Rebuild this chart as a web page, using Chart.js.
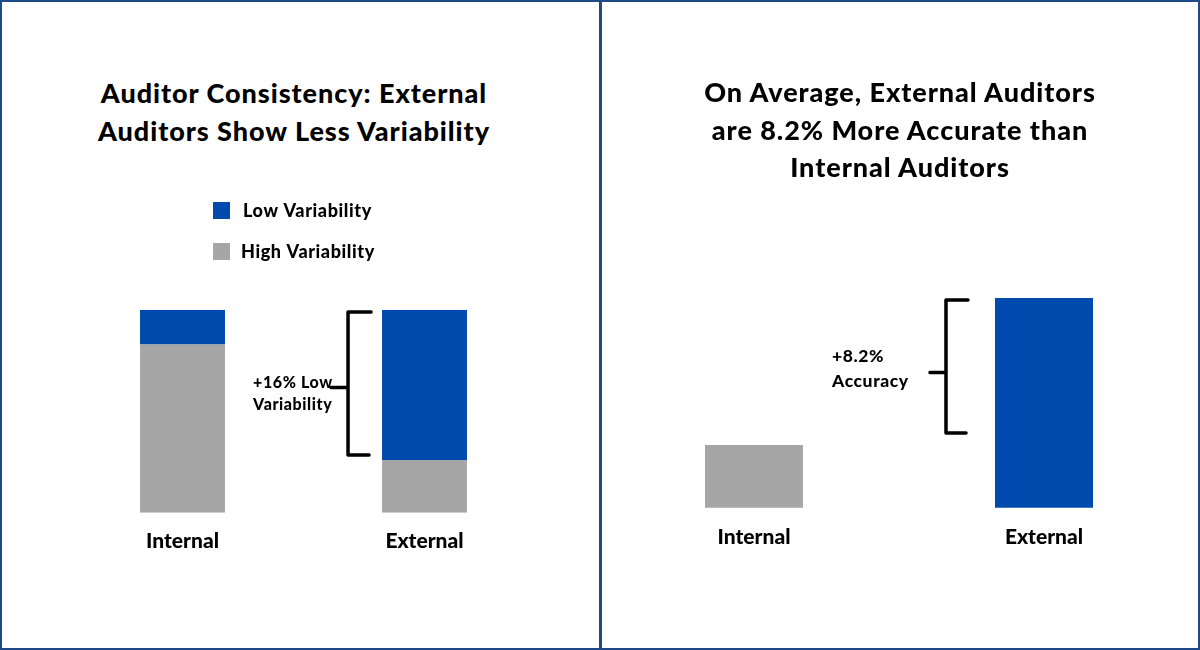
<!DOCTYPE html>
<html>
<head>
<meta charset="utf-8">
<script src="https://cdn.jsdelivr.net/npm/chart.js@4/dist/chart.umd.min.js"></script>
<style>
    html, body { margin: 0; padding: 0; background: #fff; }
    #frame {
        position: relative;
        width: 1200px;
        height: 650px;
        box-sizing: border-box;
        border: 2px solid #1d4a86;
        overflow: hidden;
        font-family: Lato, "Open Sans", sans-serif;
    }
    .divider {
        position: absolute;
        left: 597px;
        top: 0;
        width: 3px;
        height: 650px;
        background: #1d4a86;
    }
    .panel { position: absolute; top: -2px; width: 600px; height: 650px; }
    .panel canvas { position: absolute; left: 0; top: 0; }
    .title {
        position: absolute;
        left: 0;
        width: 100%;
        text-align: center;
        font-weight: 900;
        font-size: 27px;
        letter-spacing: 0.95px;
        line-height: 37.5px;
        color: #000;
    }
</style>
</head>
<body>
<div id="frame">
    <div class="panel" style="left:-2px">
        <div class="title" style="top:74px; left:-6px">Auditor Consistency: External<br>Auditors Show Less Variability</div>
        <canvas id="variabilityChart" width="600" height="650"></canvas>
    </div>
    <div class="divider"></div>
    <div class="panel" style="left:598px">
        <div class="title" style="top:73px">On Average, External Auditors<br>are 8.2% More Accurate than<br>Internal Auditors</div>
        <canvas id="accuracyChart" width="600" height="650"></canvas>
    </div>
</div>

<script>
// Data
const CATEGORIES = ['Internal', 'External'];
const LOW_VARIABILITY = [17, 74];   // % of audits
const HIGH_VARIABILITY = [83, 26];
const ACCURACY = [84.0, 92.2];      // average accuracy %
const ACCURACY_AXIS_MIN = 80.5;
const VARIABILITY_NOTE = ['+16% Low', 'Variability'];
const ACCURACY_NOTE = ['+8.2%', 'Accuracy'];

const BLUE = '#004aad';
const GRAY = '#a6a6a6';
const FONT = 'Lato, "Open Sans", sans-serif';

// Legend drawn as a vertical list (low first, like the original)
const stackedLegend = {
    id: 'stackedLegend',
    afterDraw(chart, args, opts) {
        const ctx = chart.ctx;
        ctx.save();
        ctx.font = '900 18px ' + FONT;
        ctx.letterSpacing = '0.6px';
        ctx.textBaseline = 'middle';
        opts.order.forEach((dsIndex, i) => {
            const ds = chart.data.datasets[dsIndex];
            const y = opts.y + i * opts.rowGap;
            ctx.fillStyle = ds.backgroundColor;
            ctx.fillRect(opts.x, y, opts.box, opts.box);
            ctx.fillStyle = '#000';
            ctx.fillText(ds.label, opts.x + opts.textGap - (i ? 2 : 0), y + opts.box / 2 + 1);
        });
        ctx.restore();
    }
};

// Bracket with a short note, placed from the y scale
const bracketNote = {
    id: 'bracketNote',
    afterDraw(chart, args, opts) {
        const ctx = chart.ctx;
        const ys = chart.scales.y;
        const meta = chart.getDatasetMeta(chart.data.datasets.length - 1);
        const bar = meta.data[opts.index];
        const x = bar.x - bar.width / 2 - opts.gap;
        const top = ys.getPixelForValue(opts.from) + opts.insetTop;
        const bottom = ys.getPixelForValue(opts.to) - opts.insetBottom;
        const mid = (top + bottom) / 2 + opts.tickShift;

        ctx.save();
        ctx.strokeStyle = '#000';
        ctx.lineWidth = 3.5;
        ctx.lineCap = 'round';
        ctx.lineJoin = 'round';
        ctx.beginPath();
        ctx.moveTo(x + opts.arm, top);
        ctx.lineTo(x, top);
        ctx.lineTo(x, bottom);
        ctx.lineTo(x + opts.arm - 2, bottom);
        ctx.moveTo(x - opts.tick, mid);
        ctx.lineTo(x, mid);
        ctx.stroke();

        ctx.fillStyle = '#000';
        ctx.font = '900 ' + opts.fontSize + 'px ' + FONT;
        ctx.letterSpacing = '0.6px';
        ctx.textBaseline = 'middle';
        opts.lines.forEach((line, i) => {
            ctx.fillText(line, x - opts.textOffset, mid + opts.textShift + i * opts.lineGap);
        });
        ctx.restore();
    }
};

const xAxis = (pad) => ({
    grid: { display: false, drawTicks: false },
    border: { display: false },
    ticks: {
        color: '#000',
        padding: pad,
        font: { family: FONT, size: 21, weight: '900' }
    }
});

new Chart(document.getElementById('variabilityChart'), {
    type: 'bar',
    data: {
        labels: CATEGORIES,
        datasets: [
            { label: 'High Variability', data: HIGH_VARIABILITY, backgroundColor: GRAY },
            { label: 'Low Variability', data: LOW_VARIABILITY, backgroundColor: BLUE }
        ]
    },
    options: {
        responsive: false,
        animation: false,
        layout: { padding: { top: 310, left: 61.5, right: 54.5, bottom: 80 } },
        datasets: { bar: { barPercentage: 1, categoryPercentage: 0.351 } },
        scales: {
            x: Object.assign(xAxis(16), { stacked: true }),
            y: { stacked: true, display: false, min: 0, max: 100 }
        },
        plugins: {
            legend: { display: false },
            tooltip: { enabled: false },
            stackedLegend: { order: [1, 0], x: 213, y: 202, box: 17, rowGap: 41, textGap: 30 },
            bracketNote: {
                index: 1, gap: 34, from: 100, to: HIGH_VARIABILITY[1],
                insetTop: 2, insetBottom: 5, arm: 23, tick: 17, tickShift: 4,
                lines: VARIABILITY_NOTE, fontSize: 16, textOffset: 95, textShift: -5, lineGap: 22
            }
        }
    },
    plugins: [stackedLegend, bracketNote]
});

new Chart(document.getElementById('accuracyChart'), {
    type: 'bar',
    data: {
        labels: CATEGORIES,
        datasets: [{
            label: 'Accuracy',
            data: ACCURACY,
            backgroundColor: [GRAY, BLUE]
        }]
    },
    options: {
        responsive: false,
        animation: false,
        layout: { padding: { top: 298, left: 9, right: 11, bottom: 83 } },
        datasets: { bar: { barPercentage: 1, categoryPercentage: 0.338 } },
        scales: {
            x: xAxis(17),
            y: { display: false, min: ACCURACY_AXIS_MIN, max: ACCURACY[1] }
        },
        plugins: {
            legend: { display: false },
            tooltip: { enabled: false },
            bracketNote: {
                index: 1, gap: 49, from: ACCURACY[1], to: ACCURACY[0],
                insetTop: 2, insetBottom: 12, arm: 22, tick: 16, tickShift: 6,
                lines: ACCURACY_NOTE, fontSize: 17.5, textOffset: 114, textShift: -16, lineGap: 25
            }
        }
    },
    plugins: [bracketNote]
});
</script>
</body>
</html>
